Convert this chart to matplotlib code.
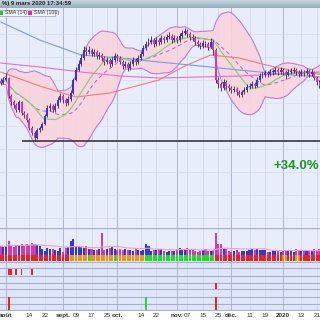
import numpy as np
import pandas as pd
import matplotlib
matplotlib.use('Agg')
import matplotlib.pyplot as plt
from matplotlib.colors import LinearSegmentedColormap
import matplotlib.patches as patches

plt.rcParams['font.family'] = ['Liberation Sans', 'DejaVu Sans']

# trading days (Euronext calendar)
holidays = ['2019-12-25', '2019-12-26', '2020-01-01']
dates = pd.bdate_range('2019-07-30', '2020-01-22', freq='C', holidays=holidays)

opens = [16.0, 15.8, 16.1, 16.3, 14.5, 13.9, 13.6, 13.1, 13.9, 12.8,
         12.6, 12.1, 11.3, 10.8, 10.3, 11.1, 11.3, 11.7, 12.5, 13.3,
         13.5, 13.1, 13.5, 14.1, 14.5, 14.1, 13.8, 14.2, 14.8, 16.1,
         17.1, 17.7, 18.3, 19.1, 18.9, 19.1, 18.7, 18.9, 18.5, 18.6,
         18.3, 17.9, 18.1, 17.7, 18.1, 18.5, 18.3, 17.9, 17.5, 17.7,
         17.3, 17.7, 18.1, 17.9, 18.3, 18.7, 19.3, 19.7, 19.9, 20.1,
         19.7, 20.1, 19.9, 20.3, 20.1, 20.4, 20.5, 20.1, 20.3, 20.1,
         20.5, 20.8, 21.0, 20.7, 20.4, 20.3, 19.9, 19.7, 19.5, 19.8,
         19.7, 19.4, 19.9, 19.1, 16.1, 15.7, 15.3, 15.9, 15.5, 15.3,
         15.1, 15.2, 14.9, 14.6, 14.9, 15.1, 15.4, 15.5, 15.7, 15.5,
         16.1, 16.5, 16.6, 16.8, 16.7, 16.9, 16.9, 17.1, 16.9, 17.1,
         16.9, 16.6, 16.9, 17.0, 17.1, 16.9, 16.7, 16.9, 16.8, 17.0,
         16.7, 16.9, 16.3, 15.9]
highs = [16.3, 16.4, 16.8, 16.4, 14.7, 14.1, 13.8, 14.1, 14.0, 13.0,
         12.8, 12.3, 11.5, 11.0, 11.3, 11.5, 11.9, 12.7, 13.6, 13.8,
         13.7, 13.8, 14.4, 14.8, 14.7, 14.3, 14.5, 15.1, 16.3, 17.4,
         18.1, 18.7, 19.5, 19.4, 19.5, 19.3, 19.2, 19.1, 18.9, 18.8,
         18.5, 18.4, 18.3, 18.4, 18.8, 18.7, 18.5, 18.1, 18.0, 17.9,
         18.0, 18.4, 18.3, 18.6, 19.0, 19.6, 20.0, 20.3, 20.5, 20.3,
         20.4, 20.3, 20.6, 20.5, 20.7, 20.9, 20.7, 20.6, 20.5, 20.8,
         21.1, 21.3, 21.2, 20.9, 20.7, 20.5, 20.1, 19.9, 20.1, 20.0,
         19.9, 20.3, 20.1, 19.3, 16.4, 15.9, 16.2, 16.1, 15.7, 15.5,
         15.5, 15.4, 15.1, 15.1, 15.4, 15.7, 15.8, 16.0, 15.9, 16.4,
         16.8, 16.9, 17.1, 17.0, 17.2, 17.2, 17.4, 17.3, 17.4, 17.3,
         17.1, 17.2, 17.3, 17.4, 17.3, 17.1, 17.2, 17.1, 17.3, 17.2,
         17.2, 17.0, 16.5, 16.1]
lows = [15.6, 15.7, 16.0, 14.3, 13.6, 13.3, 12.9, 12.9, 12.6, 12.3,
        11.9, 11.1, 10.6, 10.0, 10.2, 10.9, 11.1, 11.6, 12.4, 13.0,
        12.9, 12.9, 13.3, 13.9, 13.8, 13.5, 13.6, 14.0, 14.7, 16.0,
        17.0, 17.5, 18.1, 18.6, 18.7, 18.5, 18.5, 18.2, 18.2, 18.0,
        17.6, 17.7, 17.4, 17.5, 17.9, 18.0, 17.7, 17.2, 17.3, 17.0,
        17.1, 17.5, 17.6, 17.7, 18.1, 18.5, 19.1, 19.5, 19.7, 19.4,
        19.5, 19.6, 19.7, 19.8, 19.9, 20.2, 19.8, 19.9, 19.8, 19.9,
        20.3, 20.6, 20.4, 20.1, 20.0, 19.6, 19.4, 19.2, 19.3, 19.4,
        19.1, 19.3, 18.6, 15.8, 15.3, 15.0, 15.1, 15.2, 15.0, 14.8,
        14.9, 14.6, 14.4, 14.4, 14.7, 14.9, 15.2, 15.3, 15.3, 15.4,
        15.9, 16.3, 16.4, 16.4, 16.5, 16.6, 16.7, 16.6, 16.7, 16.6,
        16.2, 16.5, 16.7, 16.8, 16.6, 16.4, 16.5, 16.5, 16.6, 16.4,
        16.5, 16.1, 15.6, 15.3]
closes = [15.8, 16.1, 16.3, 14.5, 13.9, 13.6, 13.1, 13.9, 12.8, 12.6,
          12.1, 11.3, 10.8, 10.3, 11.1, 11.3, 11.7, 12.5, 13.3, 13.5,
          13.1, 13.5, 14.1, 14.5, 14.1, 13.8, 14.2, 14.8, 16.1, 17.1,
          17.7, 18.3, 19.1, 18.9, 19.1, 18.7, 18.9, 18.5, 18.6, 18.3,
          17.9, 18.1, 17.7, 18.1, 18.5, 18.3, 17.9, 17.5, 17.7, 17.3,
          17.7, 18.1, 17.9, 18.3, 18.7, 19.3, 19.7, 19.9, 20.1, 19.7,
          20.1, 19.9, 20.3, 20.1, 20.4, 20.5, 20.1, 20.3, 20.1, 20.5,
          20.8, 21.0, 20.7, 20.4, 20.3, 19.9, 19.7, 19.5, 19.8, 19.7,
          19.4, 19.9, 19.1, 16.1, 15.7, 15.3, 15.9, 15.5, 15.3, 15.1,
          15.2, 14.9, 14.6, 14.9, 15.1, 15.4, 15.5, 15.7, 15.5, 16.1,
          16.5, 16.6, 16.8, 16.7, 16.9, 16.9, 17.1, 16.9, 17.1, 16.9,
          16.6, 16.9, 17.0, 17.1, 16.9, 16.7, 16.9, 16.8, 17.0, 16.7,
          16.9, 16.3, 15.9, 15.5]
volumes = [90, 80, 90, 145, 90, 80, 100, 90, 110, 100,
           110, 100, 120, 110, 100, 90, 60, 45, 70, 60,
           60, 50, 45, 70, 35, 70, 80, 140, 160, 90,
           90, 80, 70, 90, 60, 60, 50, 50, 60, 225,
           50, 60, 70, 80, 60, 50, 60, 50, 60, 50,
           50, 40, 60, 50, 40, 50, 110, 90, 40, 50,
           50, 60, 60, 40, 35, 40, 40, 40, 60, 70,
           60, 50, 70, 60, 50, 40, 35, 40, 50, 60,
           40, 40, 50, 225, 110, 110, 70, 60, 40, 35,
           40, 50, 35, 40, 40, 40, 50, 60, 50, 60,
           50, 50, 50, 35, 35, 50, 40, 40, 35, 40,
           50, 40, 40, 35, 60, 50, 40, 50, 40, 50,
           40, 60, 50, 60]

# long moving averages, read at a few sessions
sma50_days = [0, 15, 29, 42, 61, 71, 81, 92, 104, 115, 123]
sma50_vals = [16.9, 15.5, 14.4, 14.8, 16.1, 17.5, 18.6, 18.3, 17.5, 16.9, 16.7]
sma100_days = [0, 15, 31, 46, 61, 77, 92, 108, 123]
sma100_vals = [17.8, 17.4, 16.9, 16.5, 16.3, 16.4, 16.5, 16.7, 16.9]
sma200_days = [0, 15, 31, 46, 61, 77, 92, 108, 123]
sma200_vals = [21.9, 20.1, 18.6, 18.3, 17.9, 17.5, 17.1, 16.7, 16.4]

# daily trend strip: r = bearish, o = neutral, g = bullish
trend = ('r' * 27 + 'o' * 7 + 'g' + 'o' * 9 + 'g' + 'o' * 11 + 'g' * 27
         + 'r' * 26 + 'oo' + 'rrr' + 'oo' + 'r' * 8)
signal_row1 = ['2019-08-02', '2019-08-05', '2019-08-07', '2019-08-09', '2019-08-15']
signal_row2 = ['2019-11-22']
signal_row3_red = ['2019-08-02', '2019-11-22']
signal_row3_green = ['2019-10-16']

support_level = 10.0
support_from = '2019-08-09'
gain_label = '+34.0%'
title = '%) 9 mars 2020 17:34:59'

tick_dates = ['2019-08-01', '2019-08-14', '2019-08-22', '2019-09-02', '2019-09-09',
              '2019-09-17', '2019-09-25', '2019-10-01', '2019-10-14', '2019-10-22',
              '2019-11-01', '2019-11-07', '2019-11-15', '2019-11-25', '2019-12-02',
              '2019-12-11', '2019-12-19', '2020-01-02', '2020-01-13', '2020-01-21']
tick_labels = ['août', '14', '22', 'sept.', '09', '17', '25', 'oct.', '14', '22',
               'nov.', '07', '15', '25', 'déc.', '11', '19', '2020', '13', '21']
month_labels = ['août', 'sept.', 'oct.', 'nov.', 'déc.', '2020']

BLUE = '#3636d8'
MAG = '#d43ab2'
BG = '#e8edfb'

x = np.arange(len(dates))
o = np.array(opens)
c = np.array(closes)
up = c >= o
col = np.where(up, BLUE, MAG)


def idx(d):
    return dates.get_loc(pd.Timestamp(d))


s = pd.Series(closes)
sma14 = s.rolling(14, min_periods=1).mean()
mid = s.rolling(20, min_periods=1).mean()
sd = s.rolling(20, min_periods=1).std(ddof=0)
upper = mid + 2 * sd
lower = mid - 2 * sd
vol_ma = pd.Series(volumes).rolling(20, min_periods=1).mean()

W = 320.0
fig = plt.figure(figsize=(3.2, 3.2), dpi=100, facecolor='white')


def box(top, bottom):
    return [0, 1 - bottom / W, 1, (bottom - top) / W]


ax_t = fig.add_axes(box(0, 8))
ax = fig.add_axes(box(8, 228))
ax_v = fig.add_axes(box(228, 255), sharex=ax)
ax_s = fig.add_axes(box(255, 311), sharex=ax)

# title bar
grad = LinearSegmentedColormap.from_list('bar', ['#c6d6e0', '#93acbc'])
ax_t.imshow(np.linspace(0, 1, 20).reshape(-1, 1), cmap=grad, aspect='auto',
            extent=[0, 1, 0, 1])
ax_t.set_xlim(0, 1)
ax_t.set_ylim(0, 1)
ax_t.axis('off')
ax_t.text(0.005, 0.5, title, fontsize=4.3, fontweight='bold', color='#222',
          va='center', ha='left')

tick_pos = [idx(d) for d in tick_dates]
month_pos = [p for p, t in zip(tick_pos, tick_labels) if t in month_labels]
xmin, xmax = -0.32, 123.2

for a in (ax, ax_v, ax_s):
    a.set_facecolor(BG)
    for sp in a.spines.values():
        sp.set_visible(False)
    a.set_xlim(xmin, xmax)
    for p in tick_pos:
        a.axvline(p, color='#d0d7ea', lw=0.6, zorder=0)
    for p in month_pos:
        a.axvline(p, color='#aeb7cf', lw=0.7, zorder=0)
    a.tick_params(left=False, labelleft=False, bottom=False, labelbottom=False)

# price panel
ax.set_ylim(1.3, 23.3)
for g in [20.7, 18.4, 16.1, 13.8, 11.5, 9.2, 6.9, 4.6, 2.3]:
    ax.axhline(g, color='#d6dcef', lw=0.5, zorder=0)
ax.fill_between(x, lower, upper, color='#fbd3da', alpha=0.85, lw=0, zorder=1)
ax.plot(x, upper, color='#b97ce2', lw=0.8, zorder=2)
ax.plot(x, lower, color='#b97ce2', lw=0.8, zorder=2)
ax.plot(x, mid, color='#a56ad6', lw=0.7, dashes=(4, 3), zorder=2)
ax.plot(sma200_days, sma200_vals, color='#7f97ec', lw=0.8, zorder=2)
ax.plot(sma100_days, sma100_vals, color='#f06ad2', lw=0.8, zorder=2)
ax.plot(sma50_days, sma50_vals, color='#f27b7b', lw=0.8, zorder=2)
ax.plot(x, sma14, color='#79d36f', lw=0.8, zorder=2.5)
ax.vlines(x, lows, highs, color='#2a2a2a', lw=0.6, zorder=3)
body = np.maximum(np.abs(c - o), 0.06)
ax.bar(x, body, bottom=np.minimum(o, c), width=0.75, color=col, lw=0, zorder=4)
ax.hlines(support_level, idx(support_from), xmax, color='#2a2a2a', lw=1.1, zorder=5)
fig.text(319 / W, 1 - 166 / W, gain_label, ha='right', va='center', fontsize=9.5,
         fontweight='bold', color='#1b981c')

# legend
fig.patches.append(patches.Rectangle((-0.01, 1 - 15.5 / W), 58 / W, 5.5 / W,
                                     transform=fig.transFigure, fc='#f1f4fb',
                                     ec='#9aa3b5', lw=0.5, zorder=10))
fig.patches.append(patches.Rectangle((0, 1 - 14.5 / W), 3.2 / W, 3.5 / W,
                                     transform=fig.transFigure, fc='#22cc22',
                                     lw=0, zorder=11))
fig.patches.append(patches.Rectangle((28 / W, 1 - 14.5 / W), 3.5 / W, 3.5 / W,
                                     transform=fig.transFigure, fc='#ee22cc',
                                     lw=0, zorder=11))
fig.text(5 / W, 1 - 12.8 / W, 'SMA (14)', fontsize=3.8, color='#333',
         va='center', zorder=12)
fig.text(33.5 / W, 1 - 12.8 / W, 'SMA (100)', fontsize=3.8, color='#333',
         va='center', zorder=12)

# volume panel
ax_v.set_ylim(0, 270)
ax_v.bar(x, volumes, width=0.8, color=col, lw=0, zorder=2)
ax_v.plot(x, vol_ma, color='#f49ad8', lw=0.8, zorder=3)
ax_v.axhline(270, color='#a9b1c6', lw=1.0, zorder=3)

# trend strip and signal rows
ax_s.set_facecolor('#dfe6f9')
ax_s.set_ylim(56, 0)
strip_col = {'r': '#ee2222', 'o': '#f0930f', 'g': '#22dd22'}
ax_s.bar(x, 6, bottom=0, width=0.8, color=[strip_col[t] for t in trend], lw=0, zorder=2)
for yy in [7, 13, 21, 28, 34, 42, 49, 55]:
    ax_s.axhline(yy, color='#a7b1cb', lw=0.8, zorder=1)
ax_s.bar([idx(d) for d in signal_row1], 6.5, bottom=13.5, width=0.7,
         color='#ee2222', lw=0, zorder=3)
ax_s.bar([idx(d) for d in signal_row2], 6, bottom=28, width=0.7,
         color='#ee2222', lw=0, zorder=3)
ax_s.bar([idx(d) for d in signal_row3_red], 13, bottom=42, width=0.7,
         color='#ee2222', lw=0, zorder=3)
ax_s.bar([idx(d) for d in signal_row3_green], 13, bottom=42, width=0.7,
         color='#22dd22', lw=0, zorder=3)

ax_s.set_xticks(tick_pos)
ax_s.set_xticklabels(tick_labels)
ax_s.tick_params(labelbottom=True, length=0, pad=1.2, labelsize=4.6,
                 labelcolor='#333')
for lab in ax_s.get_xticklabels():
    if lab.get_text() in month_labels:
        lab.set_fontweight('bold')

fig.savefig('out.png', dpi=100, facecolor='white')
